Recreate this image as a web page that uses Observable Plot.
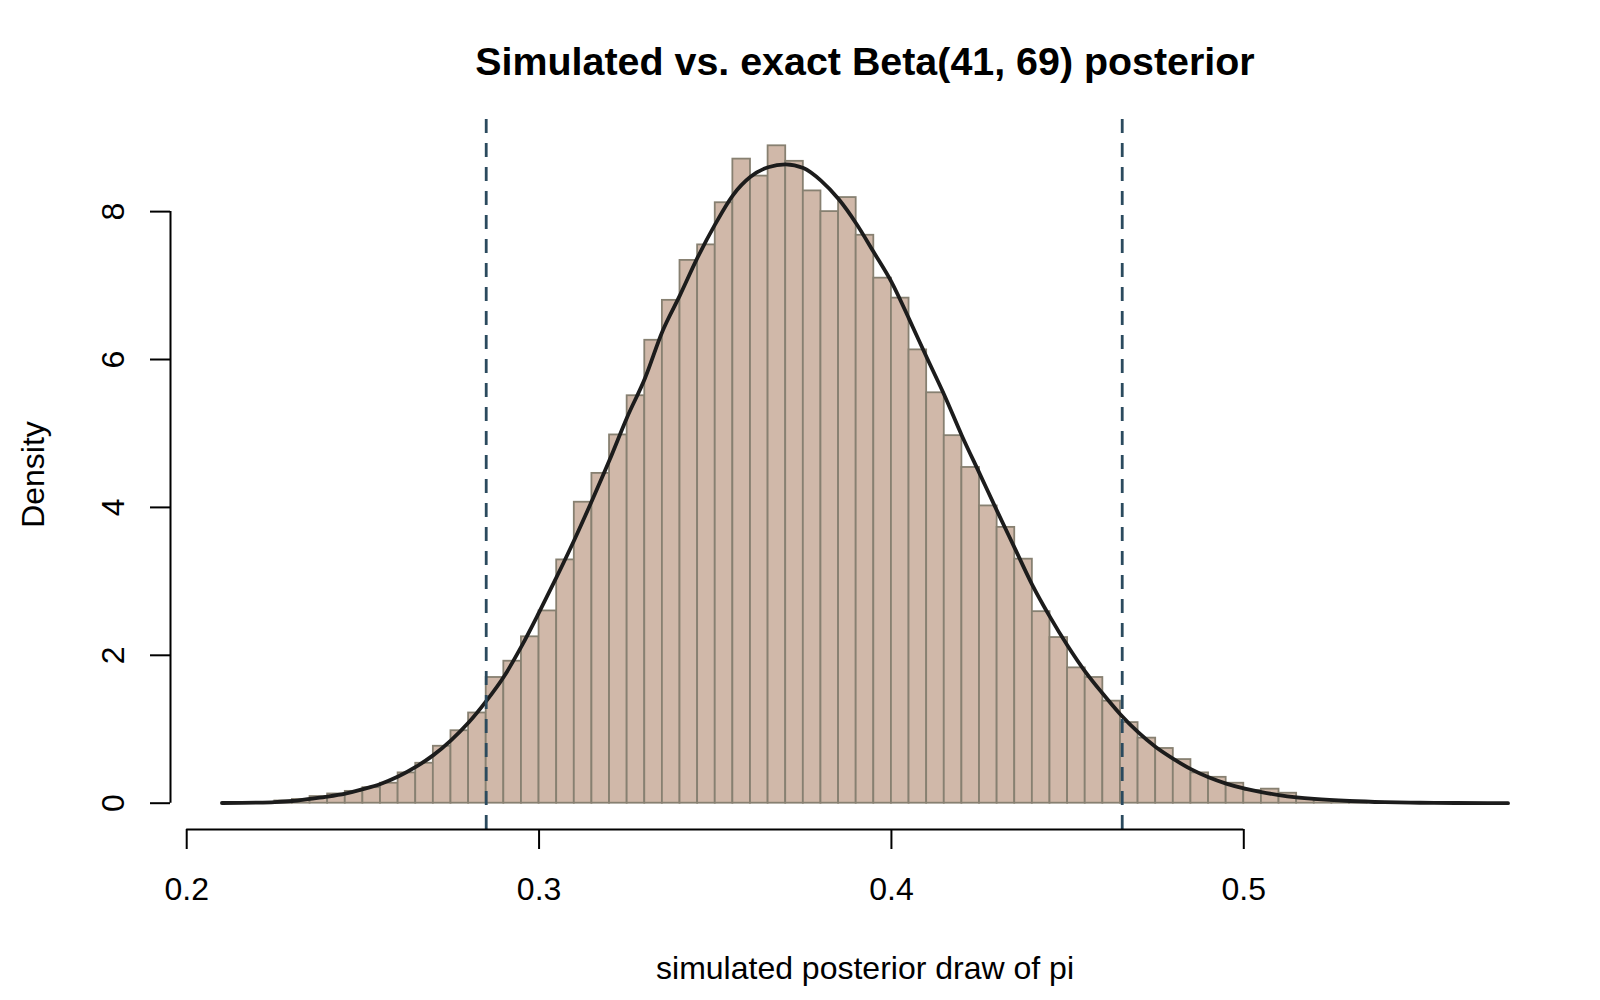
<!DOCTYPE html>
<html>
<head>
<meta charset="utf-8">
<script src="https://cdn.jsdelivr.net/npm/d3@7"></script>
<script src="https://cdn.jsdelivr.net/npm/@observablehq/plot@0.6"></script>
<style>
  html, body { margin: 0; padding: 0; background: #ffffff; }
  #chart svg { display: block; }
</style>
</head>
<body>
<div id="chart"></div>
<script>
// Histogram of simulated posterior draws (density scale), bins of width 0.005
const binStart = 0.225;
const binWidth = 0.005;
const binDensity = [
  0.03, 0.05, 0.09, 0.125, 0.16, 0.21, 0.27, 0.41, 0.54, 0.77,
  0.98, 1.22, 1.70, 1.92, 2.25, 2.60, 3.29, 4.07, 4.46, 4.98,
  5.51, 6.26, 6.80, 7.34, 7.55, 8.12, 8.71, 8.48, 8.89, 8.68,
  8.28, 8.00, 8.19, 7.68, 7.10, 6.83, 6.13, 5.55, 4.97, 4.54,
  4.02, 3.73, 3.30, 2.59, 2.24, 1.83, 1.70, 1.38, 1.09, 0.88,
  0.74, 0.59, 0.41, 0.35, 0.27, 0.17, 0.19, 0.135, 0.06, 0.036,
  0.02, 0.01
];

// Exact Beta(41, 69) density, sampled along the draw range
const curveX = [
  0.210, 0.220, 0.225, 0.230, 0.235, 0.240, 0.245, 0.250, 0.255, 0.260,
  0.265, 0.270, 0.275, 0.280, 0.285, 0.290, 0.295, 0.300, 0.305, 0.310,
  0.315, 0.320, 0.325, 0.330, 0.335, 0.340, 0.345, 0.350, 0.355, 0.360,
  0.365, 0.370, 0.375, 0.380, 0.385, 0.390, 0.395, 0.400, 0.405, 0.410,
  0.415, 0.420, 0.425, 0.430, 0.435, 0.440, 0.445, 0.450, 0.455, 0.460,
  0.465, 0.470, 0.475, 0.480, 0.485, 0.490, 0.495, 0.500, 0.505, 0.510,
  0.515, 0.520, 0.530, 0.540, 0.550, 0.560, 0.575
];
const curveY = [
  0.003, 0.008, 0.015, 0.03, 0.06, 0.09, 0.13, 0.19, 0.26, 0.36,
  0.49, 0.65, 0.85, 1.09, 1.38, 1.71, 2.12, 2.58, 3.06, 3.56,
  4.09, 4.64, 5.22, 5.74, 6.38, 6.87, 7.38, 7.83, 8.22, 8.47,
  8.60, 8.64, 8.59, 8.42, 8.17, 7.84, 7.45, 7.05, 6.55, 6.03,
  5.52, 4.97, 4.46, 3.95, 3.45, 2.95, 2.52, 2.13, 1.78, 1.48,
  1.20, 0.96, 0.76, 0.60, 0.46, 0.35, 0.265, 0.20, 0.15, 0.11,
  0.08, 0.058, 0.03, 0.014, 0.006, 0.003, 0.001
];

// 95% interval of the simulated draws
const intervalBounds = [0.285, 0.4655];

const xTicks = [0.2, 0.3, 0.4, 0.5];
const yTicks = [0, 2, 4, 6, 8];

const titleText = "Simulated vs. exact Beta(41, 69) posterior";
const xLabel = "simulated posterior draw of pi";
const yLabel = "Density";

const bins = binDensity.map((d, i) => ({
  x1: binStart + i * binWidth,
  x2: binStart + (i + 1) * binWidth,
  density: d
}));
const curve = curveX.map((x, i) => ({x, y: curveY[i]}));

// base-graphics style padding: 4% beyond the data range on each side
const xMin = d3.min(curveX), xMax = d3.max(curveX);
const xPad = 0.04 * (xMax - xMin);
const yMax = d3.max(binDensity);
const yPad = 0.04 * yMax;

const font = "'Liberation Sans', Arial, Helvetica, sans-serif";

const chart = Plot.plot({
  width: 1600,
  height: 1000,
  marginLeft: 170,
  marginRight: 41,
  marginTop: 119,
  marginBottom: 171,
  style: {fontFamily: font, fontSize: "32px", color: "#000", background: "#fff"},
  x: {domain: [xMin - xPad, xMax + xPad]},
  y: {domain: [-yPad, yMax + yPad]},
  marks: [
    Plot.rect(bins, {
      x1: "x1", x2: "x2", y1: 0, y2: "density",
      fill: "#d0b8a9", stroke: "#878071", strokeWidth: 1.8
    }),
    Plot.line(curve, {
      x: "x", y: "y", curve: "monotone-x",
      stroke: "#1c1c1c", strokeWidth: 3.8
    }),
    Plot.ruleX(intervalBounds, {
      stroke: "#2b4a5e", strokeWidth: 2.8, strokeDasharray: "14,10"
    }),
    // x axis: line between first and last tick, ticks and labels
    Plot.ruleY([-yPad], {x1: xTicks[0], x2: xTicks[xTicks.length - 1], stroke: "#000", strokeWidth: 2}),
    Plot.axisX({
      ticks: xTicks, tickSize: 20, tickPadding: 28, tickFormat: d => d.toFixed(1),
      stroke: "#000", strokeWidth: 2, fontSize: 32, label: null
    }),
    // y axis: line between first and last tick, ticks and rotated labels
    Plot.ruleX([xMin - xPad], {y1: yTicks[0], y2: yTicks[yTicks.length - 1], stroke: "#000", strokeWidth: 2}),
    Plot.axisY({
      ticks: yTicks, tickSize: 20, tickPadding: 27, tickRotate: -90,
      stroke: "#000", strokeWidth: 2, fontSize: 32, label: null
    }),
    // titles
    Plot.text([titleText], {
      frameAnchor: "top", lineAnchor: "bottom", dy: -45,
      fontSize: 39.4, fontWeight: "bold", fill: "#000"
    }),
    Plot.text([xLabel], {
      frameAnchor: "bottom", lineAnchor: "bottom", dy: 149,
      fontSize: 32, fill: "#000"
    }),
    Plot.text([yLabel], {
      frameAnchor: "left", rotate: -90, textAnchor: "middle", lineAnchor: "bottom", dx: -127,
      fontSize: 32, fill: "#000"
    })
  ]
});

document.getElementById("chart").appendChild(chart);
</script>
</body>
</html>
